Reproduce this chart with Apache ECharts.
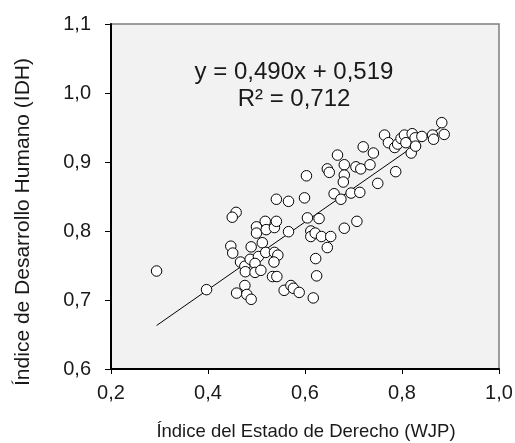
<!DOCTYPE html>
<html>
<head>
<meta charset="utf-8">
<script src="https://cdn.jsdelivr.net/npm/echarts@6/dist/echarts.min.js"></script>
<style>html,body{margin:0;padding:0;background:#fff;}#c{width:515px;height:443px;}</style>
</head>
<body>
<div id="c"></div>
<script>
const wjp = [0.294,0.397,0.458,0.450,0.447,0.451,0.467,0.459,0.476,0.480,0.489,0.476,0.477,0.487,0.489,0.500,0.500,0.504,0.497,0.497,0.509,0.512,0.518,0.520,0.519,0.537,0.541,0.541,0.566,0.566,0.537,0.544,0.536,0.533,0.542,0.557,0.571,0.576,0.588,0.599,0.603,0.605,0.612,0.612,0.621,0.629,0.634,0.653,0.646,0.622,0.624,0.617,0.646,0.650,0.660,0.667,0.674,0.681,0.681,0.679,0.681,0.695,0.705,0.713,0.707,0.715,0.720,0.734,0.741,0.750,0.764,0.772,0.785,0.787,0.791,0.798,0.805,0.808,0.819,0.821,0.827,0.828,0.841,0.863,0.865,0.882,0.887];
const idh = [0.742,0.715,0.827,0.820,0.778,0.768,0.755,0.710,0.721,0.708,0.701,0.749,0.741,0.759,0.777,0.806,0.797,0.763,0.753,0.740,0.743,0.783,0.814,0.802,0.769,0.805,0.814,0.846,0.843,0.799,0.769,0.765,0.755,0.734,0.734,0.714,0.721,0.717,0.711,0.848,0.880,0.819,0.800,0.792,0.797,0.818,0.792,0.792,0.776,0.760,0.735,0.703,0.890,0.885,0.854,0.910,0.846,0.896,0.881,0.871,0.804,0.855,0.893,0.856,0.814,0.890,0.922,0.896,0.913,0.869,0.939,0.928,0.921,0.886,0.926,0.934,0.939,0.928,0.913,0.941,0.935,0.923,0.937,0.939,0.933,0.957,0.940];
const slope = 0.490, intercept = 0.519;
const trendX = [0.294, 0.888];
const xTicks = [0.2,0.4,0.6,0.8,1.0];
const yTicks = [0.6,0.7,0.8,0.9,1.0,1.1];
const eqText = ['y = 0,490x + 0,519', 'R² = 0,712'];
const xTitle = 'Índice del Estado de Derecho (WJP)';
const yTitle = 'Índice de Desarrollo Humano (IDH)';

const pts = wjp.map((x,i)=>[x, idh[i]]);
const trend = trendX.map(x=>[x, slope*x+intercept]);
const fmt = v => v.toFixed(1).replace('.', ',');
const FONT = 'Liberation Sans, Arial, sans-serif';

const chart = echarts.init(document.getElementById('c'), null, {renderer:'canvas'});
chart.setOption({
  animation:false,
  backgroundColor:'#ffffff',
  grid:{left:111, top:24, width:388, height:345, containLabel:false, outerBoundsMode:'none',
    show:true, backgroundColor:'#f2f2f2', borderColor:'#7f7f7f', borderWidth:1.5},
  xAxis:{type:'value', min:xTicks[0], max:xTicks[xTicks.length-1], interval:0.2,
    axisLine:{show:true, onZero:false, lineStyle:{color:'#000', width:2}},
    axisTick:{show:true, length:5, lineStyle:{color:'#000', width:1}},
    axisLabel:{formatter:fmt, fontFamily:FONT, fontSize:20, color:'#1a1a1a', margin:14},
    splitLine:{show:false}},
  yAxis:{type:'value', min:yTicks[0], max:yTicks[yTicks.length-1], interval:0.1,
    axisLine:{show:true, onZero:false, lineStyle:{color:'#000', width:2}},
    axisTick:{show:true, length:6, lineStyle:{color:'#000', width:1}},
    axisLabel:{formatter:fmt, fontFamily:FONT, fontSize:20, color:'#1a1a1a', margin:20},
    splitLine:{show:false}},
  graphic:[
    {type:'text', x:294, y:72, style:{text:eqText[0], font:'24px '+FONT, fill:'#1a1a1a', textAlign:'center', textVerticalAlign:'middle'}},
    {type:'text', x:294, y:99, style:{text:eqText[1], font:'24px '+FONT, fill:'#1a1a1a', textAlign:'center', textVerticalAlign:'middle'}},
    {type:'text', x:23, y:222, rotation:Math.PI/2, style:{text:yTitle, font:'21px '+FONT, fill:'#1a1a1a', textAlign:'center', textVerticalAlign:'middle'}},
    {type:'text', x:306, y:432, style:{text:xTitle, font:'18.5px '+FONT, fill:'#1a1a1a', textAlign:'center', textVerticalAlign:'middle'}}
  ],
  series:[
    {type:'line', data:trend, symbol:'none', lineStyle:{color:'#000', width:1}, z:2},
    {type:'scatter', data:pts, symbol:'circle', symbolSize:10.5,
      itemStyle:{color:'#ffffff', borderColor:'#000', borderWidth:1, opacity:1}, z:3}
  ]
});
</script>
</body>
</html>
